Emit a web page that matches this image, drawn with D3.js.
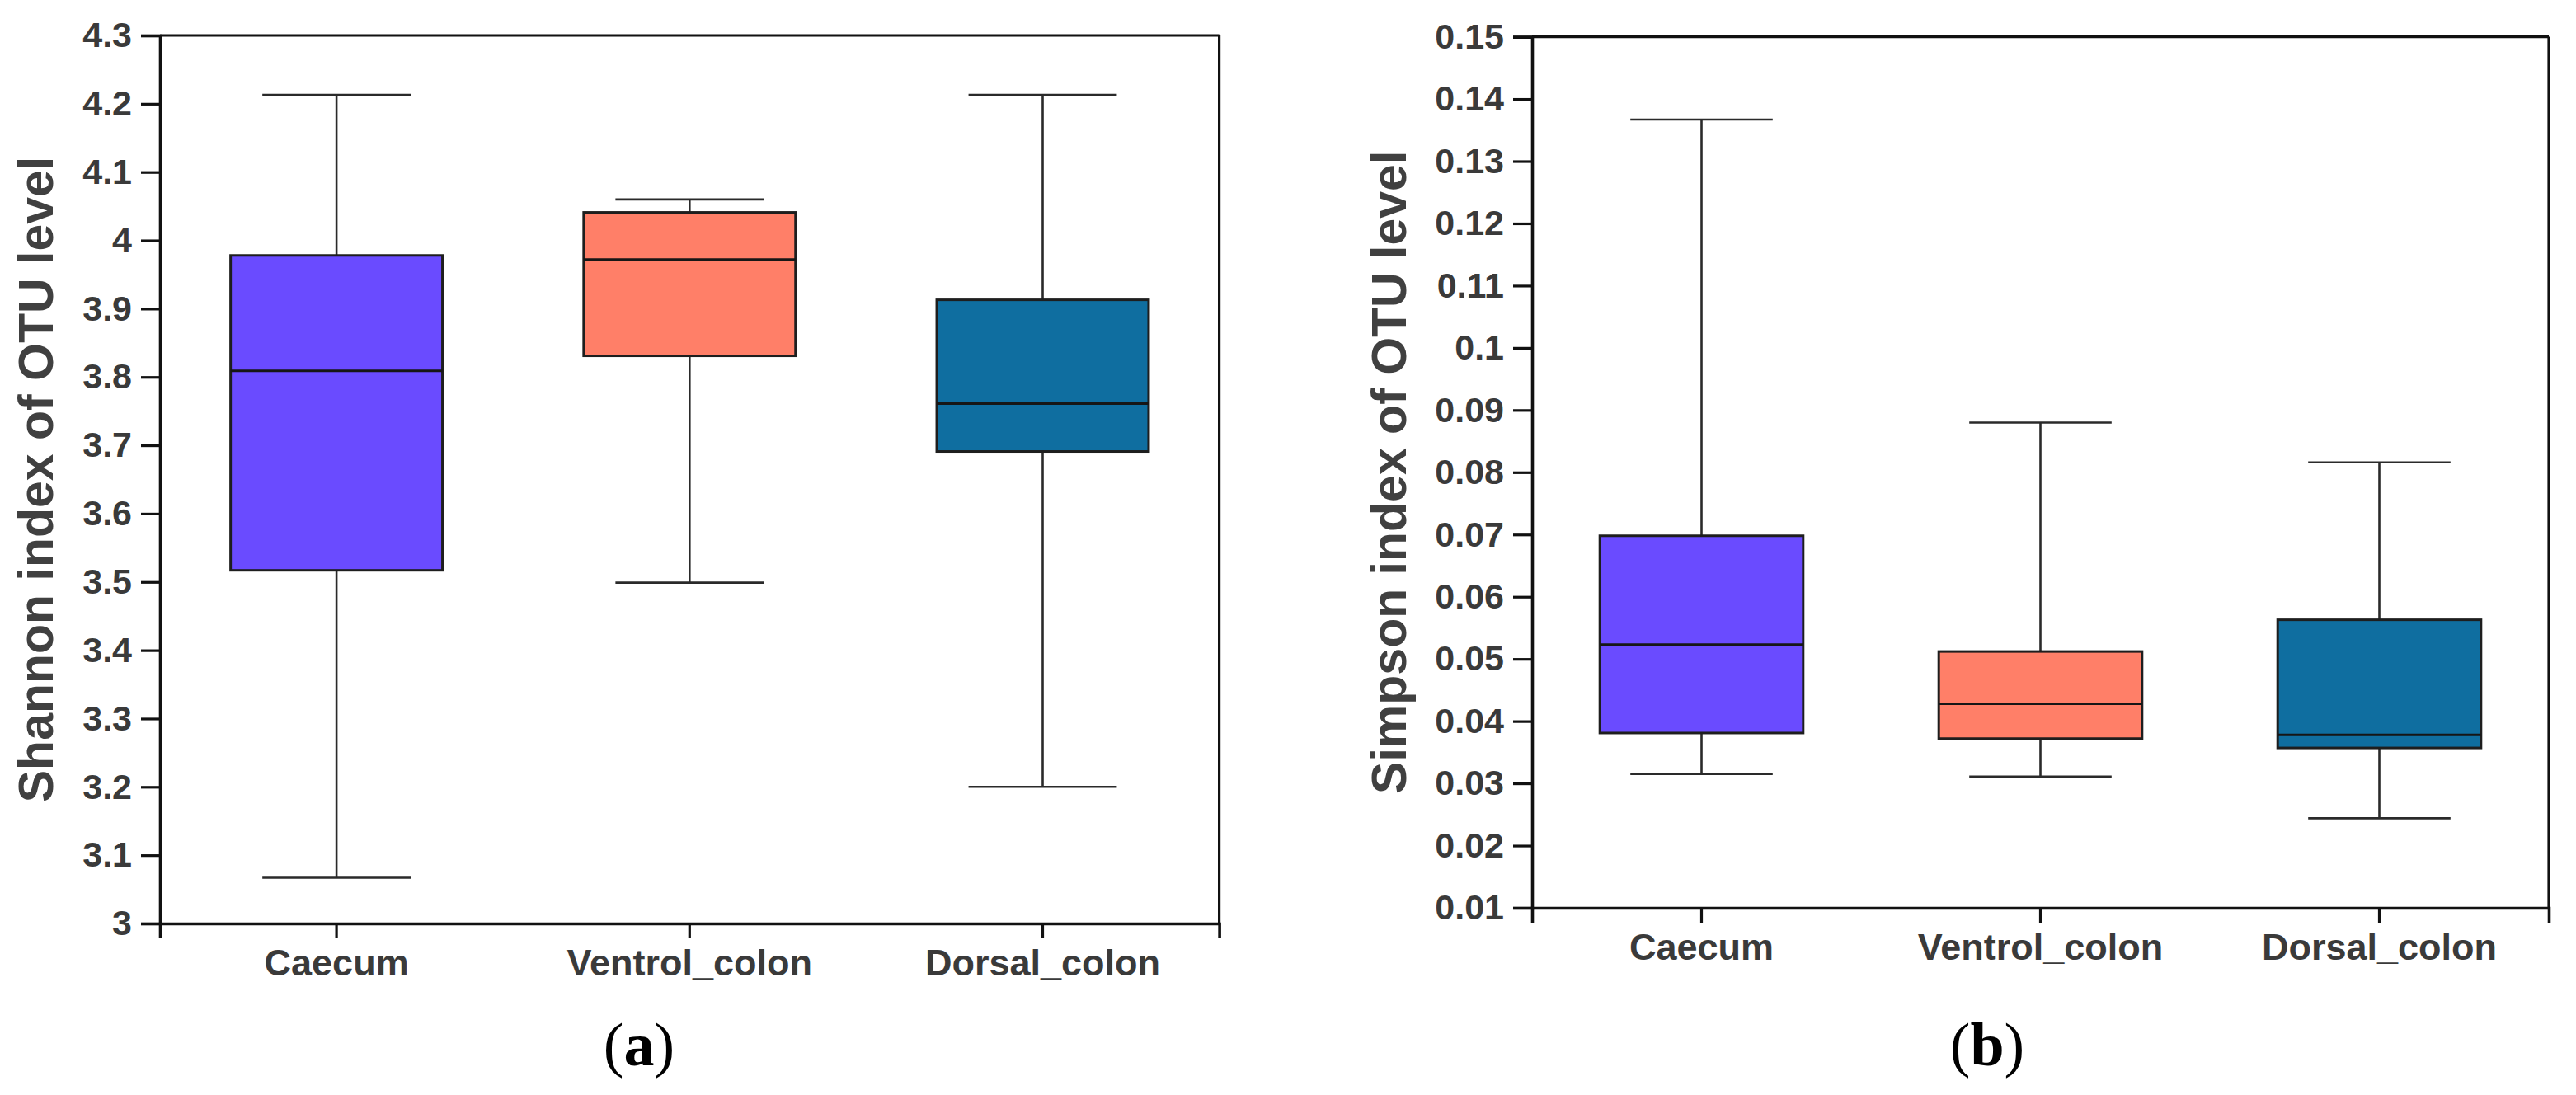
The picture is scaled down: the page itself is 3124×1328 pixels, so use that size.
<!DOCTYPE html>
<html>
<head>
<meta charset="utf-8">
<script src="https://cdn.jsdelivr.net/npm/d3@7"></script>
<style>
  html, body { margin: 0; padding: 0; background: #fff; }
  svg { display: block; }
</style>
</head>
<body>
<svg id="chart" width="3124" height="1328"></svg>
<script>
// ---- data ----
const categories = ["Caecum", "Ventrol_colon", "Dorsal_colon"];
const boxColors = ["#6A4BFF", "#FF7F68", "#0F6EA0"];

const shannonMin    = [3.067, 3.499, 3.200];
const shannonQ1     = [3.517, 3.831, 3.691];
const shannonMedian = [3.809, 3.972, 3.761];
const shannonQ3     = [3.978, 4.041, 3.913];
const shannonMax    = [4.213, 4.060, 4.213];
const shannonTicks  = [3, 3.1, 3.2, 3.3, 3.4, 3.5, 3.6, 3.7, 3.8, 3.9, 4, 4.1, 4.2, 4.3];
const shannonTickLabels = ["3","3.1","3.2","3.3","3.4","3.5","3.6","3.7","3.8","3.9","4","4.1","4.2","4.3"];

const simpsonMin    = [0.0315, 0.0311, 0.0244];
const simpsonQ1     = [0.0381, 0.0372, 0.0357];
const simpsonMedian = [0.0523, 0.0428, 0.0378];
const simpsonQ3     = [0.0698, 0.0512, 0.0563];
const simpsonMax    = [0.1367, 0.0880, 0.0816];
const simpsonTicks  = [0.01,0.02,0.03,0.04,0.05,0.06,0.07,0.08,0.09,0.10,0.11,0.12,0.13,0.14,0.15];
const simpsonTickLabels = ["0.01","0.02","0.03","0.04","0.05","0.06","0.07","0.08","0.09","0.1","0.11","0.12","0.13","0.14","0.15"];

const panels = [
  { title: "Shannon index of OTU level", label: "a",
    min: shannonMin, q1: shannonQ1, med: shannonMedian, q3: shannonQ3, max: shannonMax,
    ticks: shannonTicks, tickLabels: shannonTickLabels,
    domain: [3, 4.3],
    x0: 194, x1: 1478.6, y0: 43, y1: 1120, titleX: 64, labelX: 775 },
  { title: "Simpson index of OTU level", label: "b",
    min: simpsonMin, q1: simpsonQ1, med: simpsonMedian, q3: simpsonQ3, max: simpsonMax,
    ticks: simpsonTicks, tickLabels: simpsonTickLabels,
    domain: [0.01, 0.15],
    x0: 1858, x1: 3091, y0: 44.6, y1: 1101, titleX: 1705, labelX: 2410 }
];

const svg = d3.select("#chart");
const sans = "'Liberation Sans', Arial, Helvetica, sans-serif";
const textColor = "#3a3a3a";

panels.forEach(p => {
  const g = svg.append("g");
  const x = d3.scaleBand().domain(categories).range([p.x0, p.x1]).padding(0);
  const y = d3.scaleLinear().domain(p.domain).range([p.y1, p.y0]);
  const bw = x.bandwidth();
  const boxW = bw * 0.6;
  const capW = bw * 0.42;

  // frame: top and right borders
  g.append("line").attr("x1", p.x0).attr("x2", p.x1).attr("y1", p.y0).attr("y2", p.y0)
    .attr("stroke", "#111").attr("stroke-width", 3.2);
  g.append("line").attr("x1", p.x1).attr("x2", p.x1).attr("y1", p.y0).attr("y2", p.y1)
    .attr("stroke", "#111").attr("stroke-width", 3.2);

  // boxes
  const data = categories.map((c, i) => ({
    c, i, min: p.min[i], q1: p.q1[i], med: p.med[i], q3: p.q3[i], max: p.max[i]
  }));
  const bg = g.selectAll(".box").data(data).enter().append("g").attr("class", "box");
  const cx = d => x(d.c) + bw / 2;

  // whiskers
  bg.append("line").attr("x1", cx).attr("x2", cx)
    .attr("y1", d => y(d.max)).attr("y2", d => y(d.q3))
    .attr("stroke", "#2a2a2a").attr("stroke-width", 2.6);
  bg.append("line").attr("x1", cx).attr("x2", cx)
    .attr("y1", d => y(d.q1)).attr("y2", d => y(d.min))
    .attr("stroke", "#2a2a2a").attr("stroke-width", 2.6);
  bg.append("line").attr("x1", d => cx(d) - capW / 2).attr("x2", d => cx(d) + capW / 2)
    .attr("y1", d => y(d.max)).attr("y2", d => y(d.max))
    .attr("stroke", "#2a2a2a").attr("stroke-width", 2.6);
  bg.append("line").attr("x1", d => cx(d) - capW / 2).attr("x2", d => cx(d) + capW / 2)
    .attr("y1", d => y(d.min)).attr("y2", d => y(d.min))
    .attr("stroke", "#2a2a2a").attr("stroke-width", 2.6);
  // box
  bg.append("rect")
    .attr("x", d => cx(d) - boxW / 2).attr("width", boxW)
    .attr("y", d => y(d.q3)).attr("height", d => y(d.q1) - y(d.q3))
    .attr("fill", d => boxColors[d.i]).attr("stroke", "#1e1e1e").attr("stroke-width", 3);
  // median
  bg.append("line").attr("x1", d => cx(d) - boxW / 2).attr("x2", d => cx(d) + boxW / 2)
    .attr("y1", d => y(d.med)).attr("y2", d => y(d.med))
    .attr("stroke", "#161616").attr("stroke-width", 3);

  // y axis
  const yAxis = d3.axisLeft(y).tickValues(p.ticks)
    .tickFormat((d, i) => p.tickLabels[i]).tickSize(23).tickSizeOuter(23).tickPadding(11);
  const ya = g.append("g").attr("transform", `translate(${p.x0},0)`).call(yAxis);
  ya.select(".domain").attr("stroke", "#111").attr("stroke-width", 3.6);
  ya.selectAll(".tick line").attr("stroke", "#111").attr("stroke-width", 3.2);
  ya.selectAll(".tick text").attr("font-family", sans).attr("font-size", 43)
    .attr("font-weight", "bold").attr("fill", textColor);

  // x axis
  const xAxis = d3.axisBottom(x).tickSize(18).tickSizeOuter(18).tickPadding(13);
  const xa = g.append("g").attr("transform", `translate(0,${p.y1})`).call(xAxis);
  xa.select(".domain").attr("stroke", "#111").attr("stroke-width", 3.6);
  xa.selectAll(".tick line").attr("stroke", "#111").attr("stroke-width", 3.2);
  xa.selectAll(".tick text").attr("font-family", sans).attr("font-size", 45)
    .attr("font-weight", "bold").attr("fill", textColor);

  // y title
  const ty = (p.y0 + p.y1) / 2;
  g.append("text")
    .attr("transform", `translate(${p.titleX},${ty}) rotate(-90)`)
    .attr("text-anchor", "middle")
    .attr("font-family", sans).attr("font-size", 59).attr("font-weight", "bold")
    .attr("fill", "#404040")
    .text(p.title);

  // panel label
  const lt = svg.append("text")
    .attr("x", p.labelX).attr("y", 1292)
    .attr("text-anchor", "middle")
    .attr("font-family", "'Liberation Serif', 'Times New Roman', serif")
    .attr("font-size", 74).attr("fill", "#000");
  lt.append("tspan").text("(");
  lt.append("tspan").attr("font-weight", "bold").text(p.label);
  lt.append("tspan").text(")");
});
</script>
</body>
</html>
